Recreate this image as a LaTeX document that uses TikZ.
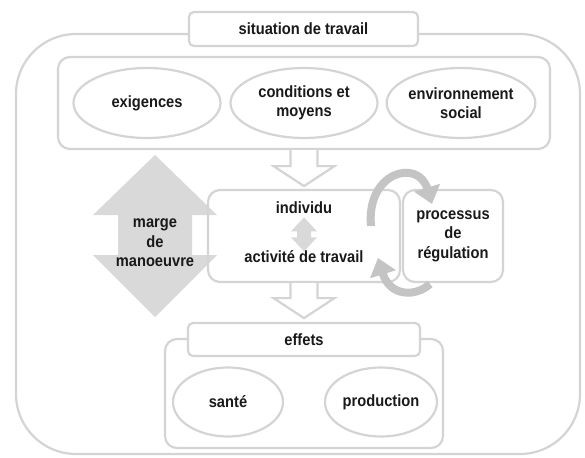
\documentclass[tikz,border=0pt]{standalone}
\usepackage{fontspec}
\setmainfont{Liberation Sans}[FakeStretch=0.9]
\usetikzlibrary{shapes.geometric, arrows.meta, calc}
\definecolor{linegray}{RGB}{212,212,212}
\definecolor{fillgray}{RGB}{217,217,217}
\definecolor{arcgray}{RGB}{196,196,196}

\begin{document}
\begin{tikzpicture}[x=1pt, y=-1pt,
  every node/.style={font=\fontsize{16.3}{19.5}\selectfont\bfseries, text=black!90, align=center},
  panel/.style={draw=linegray, line width=2.2pt, fill=white, rounded corners=#1},
  panel/.default=12pt,
  oval/.style={ellipse, draw=linegray, line width=2.2pt, fill=white, inner sep=0pt},
  hollow/.style={draw=linegray, line width=2.2pt, fill=white, line join=miter},
  cyclearrow/.style={arcgray, line width=8pt, -{Triangle[width=26pt,length=17pt]}}]
  \useasboundingbox (0,0) rectangle (585,457);

  % Situation de travail
  \node[panel=60pt, minimum width=564, minimum height=420] (situation) at (298,244) {};
  \node[panel=5pt, minimum width=229, minimum height=34] (titre) at (303.5,29) {situation de travail};

  % Facteurs
  \node[panel, minimum width=492, minimum height=92] (facteurs) at (304,103) {};
  \node[oval, minimum width=147, minimum height=70] (exigences) at (147,103) {exigences};
  \node[oval, minimum width=147, minimum height=70] (conditions) at (304,103) {conditions et\\moyens};
  \node[oval, minimum width=147, minimum height=70] (environnement) at (461,103) {environnement\\social};

  % Arrow down to individu
  \filldraw[hollow] ($(facteurs.south)+(-13.5,0)$) -- ++(0,16) -- ++(-17,0) -- ++(30.5,20)
    -- ++(30.5,-20) -- ++(-17,0) -- ++(0,-16);

  % Marge de manoeuvre
  \fill[fillgray] (155,155) -- (217,215) -- (192,215) -- (192,255) -- (217,255) -- (155,317)
    -- (93,255) -- (118,255) -- (118,215) -- (93,215) -- cycle;
  \node (marge) at (155,243) {marge\\de\\manoeuvre};

  % Individu and regulation
  \node[panel, fill=none, minimum width=192, minimum height=92] (individu) at (304,236) {};
  \node[panel, minimum width=100, minimum height=92] (regulation) at (453,236) {processus\\de\\régulation};
  \node[anchor=base, inner sep=1pt] (indiv) at (304,213) {individu};
  \node[anchor=base, inner sep=1pt] (activite) at (304,262) {activité de travail};
  \fill[fillgray] ($(indiv.south)+(0,3)$) -- ++(13,14) -- ++(-6,0) -- ++(0,6) -- ++(6,0)
    -- ++(-13,14) -- ++(-13,-14) -- ++(6,0) -- ++(0,-6) -- ++(-6,0) -- cycle;

  % Regulation loop
  \coordinate (loopAstart) at (371,226);
  \coordinate (loopAend)   at (432,204);
  \coordinate (loopBstart) at (430,284);
  \coordinate (loopBend)   at (378,258);
  \draw[cyclearrow] (loopAstart) .. controls (366,172) and (418,158) .. (loopAend);
  \draw[cyclearrow] (loopBstart) .. controls (416,297) and (390,297) .. (loopBend);

  % Arrow down to effets
  \filldraw[hollow] ($(individu.south)+(-13.5,0)$) -- ++(0,15) -- ++(-17,0) -- ++(30.5,20)
    -- ++(30.5,-20) -- ++(-17,0) -- ++(0,-15);

  % Effets
  \node[panel, minimum width=278, minimum height=109] (effets) at (304,393.5) {};
  \node[panel=5pt, minimum width=232, minimum height=33] (titreeffets) at (304,339.5) {effets};
  \node[oval, minimum width=110, minimum height=69] (sante) at (228,402) {santé};
  \node[oval, minimum width=112, minimum height=69] (production) at (381,402) {production};
\end{tikzpicture}
\end{document}
